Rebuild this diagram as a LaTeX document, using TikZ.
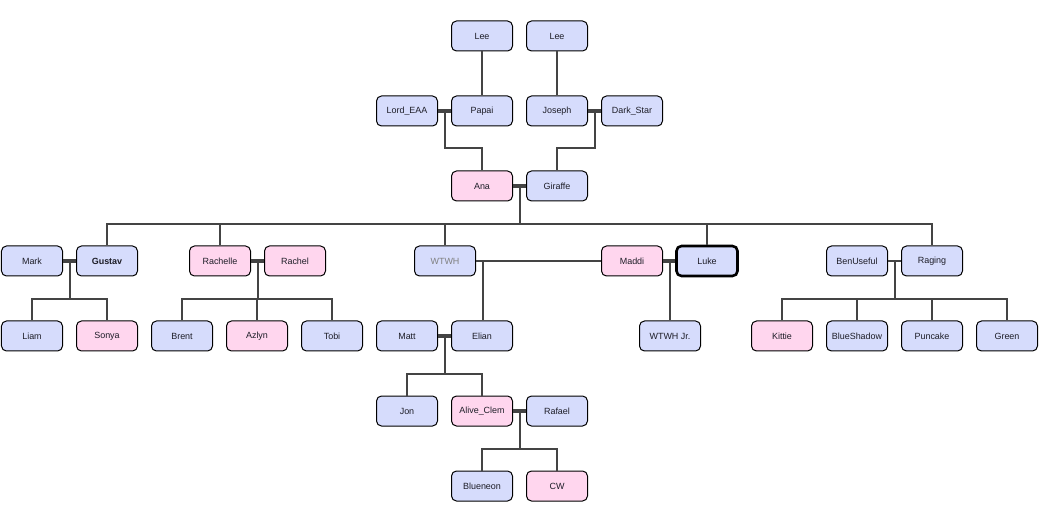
\documentclass[tikz,border=0pt]{standalone}
\usepackage{fontspec}
\setmainfont{Liberation Sans}
\usetikzlibrary{positioning}

\definecolor{boyfill}{RGB}{214,220,252}
\definecolor{girlfill}{RGB}{255,214,238}
\definecolor{linkgray}{RGB}{68,68,68}
\definecolor{nametext}{RGB}{30,30,40}

\begin{document}
\begin{tikzpicture}[
  x=1bp,y=-1bp,
  person/.style={draw,rounded corners=5bp,line width=1bp,minimum width=61bp,minimum height=30bp,inner sep=0pt,text=nametext},
  boy/.style={person,fill=boyfill},
  girl/.style={person,fill=girlfill},
  link/.style={draw=linkgray,line width=2bp},
  couple/.style={draw=linkgray,line width=4.5bp},
  mid/.style={midway,xshift=.5bp},
  every node/.append style={font=\fontsize{9}{11}\selectfont}
]
  \useasboundingbox (0,0) rectangle (1044,514);

  % grandparents
  \node[boy] (leeA) at (482,36) {Lee};
  \node[boy] (leeB) at (557,36) {Lee};
  \node[boy] (lordeaa) at (407,111) {Lord\_EAA};
  \node[boy] (papai) at (482,111) {Papai};
  \node[boy] (joseph) at (557,111) {Joseph};
  \node[boy] (darkstar) at (632,111) {Dark\_Star};
  \node[girl] (ana) at (482,186) {Ana};
  \node[boy] (giraffe) at (557,186) {Giraffe};

  % children of Ana and Giraffe
  \node[boy] (mark) at (32,261) {Mark};
  \node[boy,font=\fontsize{9}{11}\selectfont\bfseries] (gustav) at (107,261) {Gustav};
  \node[girl] (rachelle) at (220,261) {Rachelle};
  \node[girl] (rachel) at (295,261) {Rachel};
  \node[boy,text=gray] (wtwh) at (445,261) {WTWH};
  \node[girl] (maddi) at (632,261) {Maddi};
  \node[boy,line width=2.6bp] (luke) at (707,261) {Luke};
  \node[boy] (benuseful) at (857,261) {BenUseful};
  \node[boy] (raging) at (932,261) {Raging};

  % grandchildren
  \node[boy] (liam) at (32,336) {Liam};
  \node[girl] (sonya) at (107,336) {Sonya};
  \node[boy] (brent) at (182,336) {Brent};
  \node[girl] (azlyn) at (257,336) {Azlyn};
  \node[boy] (tobi) at (332,336) {Tobi};
  \node[boy] (matt) at (407,336) {Matt};
  \node[boy] (elian) at (482,336) {Elian};
  \node[boy] (wtwhjr) at (670,336) {WTWH Jr.};
  \node[girl] (kittie) at (782,336) {Kittie};
  \node[boy] (blueshadow) at (857,336) {BlueShadow};
  \node[boy] (puncake) at (932,336) {Puncake};
  \node[boy] (green) at (1007,336) {Green};

  \node[boy] (jon) at (407,411) {Jon};
  \node[girl] (aliveclem) at (482,411) {Alive\_Clem};
  \node[boy] (rafael) at (557,411) {Rafael};
  \node[boy] (blueneon) at (482,486) {Blueneon};
  \node[girl] (cw) at (557,486) {CW};

  % parent lines
  \draw[link] (leeA) -- (papai);
  \draw[link] (leeB) -- (joseph);

  % couples
  \draw[couple] (lordeaa) -- (papai) coordinate[mid] (lp);
  \draw[couple] (joseph) -- (darkstar) coordinate[mid] (jd);
  \draw[couple] (ana) -- (giraffe) coordinate[mid] (ag);
  \draw[couple] (mark) -- (gustav) coordinate[mid] (mg);
  \draw[couple] (rachelle) -- (rachel) coordinate[mid] (rr);
  \draw[couple] (maddi) -- (luke) coordinate[mid] (ml);
  \draw[couple] (matt) -- (elian) coordinate[mid] (me);
  \draw[couple] (aliveclem) -- (rafael) coordinate[mid] (ar);
  \draw[link] (benuseful) -- (raging) coordinate[mid] (br);
  \draw[link] (wtwh) -- (maddi);
  \coordinate (wm) at (483,261);

  % children
  \draw[link] (lp) -- ++(0,37) -| (ana.north);
  \draw[link] (jd) -- ++(0,37) -| (giraffe.north);

  \foreach \kid in {gustav,rachelle,wtwh,luke,raging}
    \draw[link] (ag) -- ++(0,38) -| (\kid.north);

  \foreach \kid in {liam,sonya}
    \draw[link] (mg) -- ++(0,38) -| (\kid.north);

  \foreach \kid in {brent,azlyn,tobi}
    \draw[link] (rr) -- ++(0,38) -| (\kid.north);

  \draw[link] (wm) -- (wm |- elian.north);
  \draw[link] (ml) -- (ml |- wtwhjr.north);

  \foreach \kid in {kittie,blueshadow,puncake,green}
    \draw[link] (br) -- ++(0,38) -| (\kid.north);

  \foreach \kid in {jon,aliveclem}
    \draw[link] (me) -- ++(0,38) -| (\kid.north);

  \foreach \kid in {blueneon,cw}
    \draw[link] (ar) -- ++(0,38) -| (\kid.north);
\end{tikzpicture}
\end{document}
